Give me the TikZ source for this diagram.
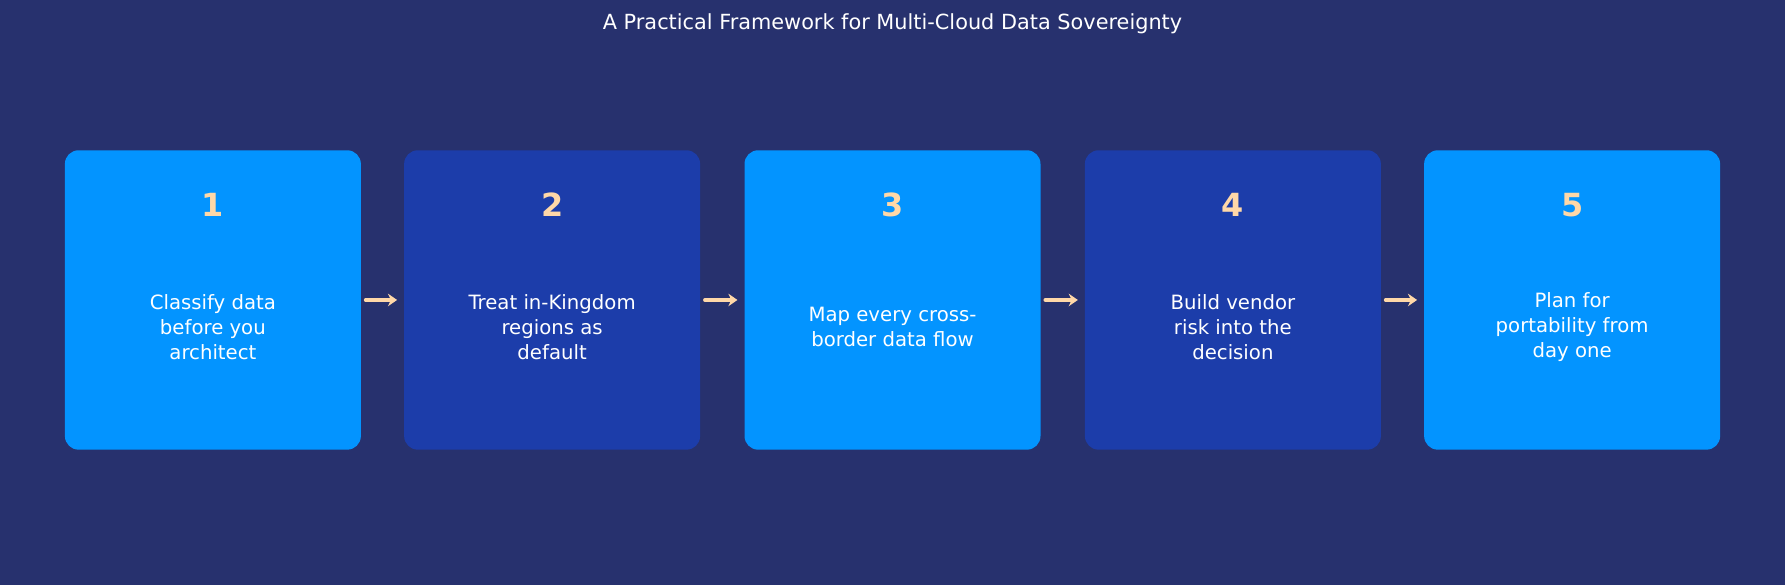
\documentclass[tikz,border=0pt]{standalone}
\usepackage{fontspec}
\setmainfont{DejaVu Sans}
\usetikzlibrary{arrows.meta}
\definecolor{bg}{HTML}{27316E}
\definecolor{lb}{HTML}{0394FF}
\definecolor{db}{HTML}{1C3DAA}
\definecolor{acc}{HTML}{FFD8A8}
\begin{document}
\begin{tikzpicture}[x=1pt,y=-1pt,
  box/.style={rounded corners=12pt,minimum width=260pt,minimum height=263pt,inner sep=0pt},
  num/.style={text=acc,font=\fontsize{28}{32}\selectfont\bfseries},
  lab/.style={text=white,align=center,font=\fontsize{17.3}{22}\selectfont},
  arr/.style={draw=acc,line width=3.2pt,line cap=round,-{Stealth[length=8pt,width=11pt]}}]
\fill[bg] (0,0) rectangle (1568,514);
\useasboundingbox (0,0) rectangle (1568,514);
\node[text=white,font=\fontsize{18.3}{20}\selectfont] (title) at (784,21) {A Practical Framework for Multi-Cloud Data Sovereignty};
\foreach \i/\x/\c/\t in {1/187/lb/{Classify data\\before you\\architect},2/485/db/{Treat in-Kingdom\\regions as\\default},3/784/lb/{Map every cross-\\border data flow},4/1083/db/{Build vendor\\risk into the\\decision},5/1381/lb/{Plan for\\portability from\\day one}}{
  \node[box,fill=\c] (b\i) at (\x,263.5) {};
  \node[num] (n\i) at (\x,180) {\i};
  \node[lab] (t\i) at (\x,287) {\t};
}
\foreach \a/\b in {1/2,2/3,3/4,4/5}{
  \coordinate (s\a) at ([xshift=4pt]b\a.east);
  \coordinate (e\a) at ([xshift=-6pt]b\b.west);
  \draw[arr] (s\a) -- (e\a);
}
\end{tikzpicture}
\end{document}
